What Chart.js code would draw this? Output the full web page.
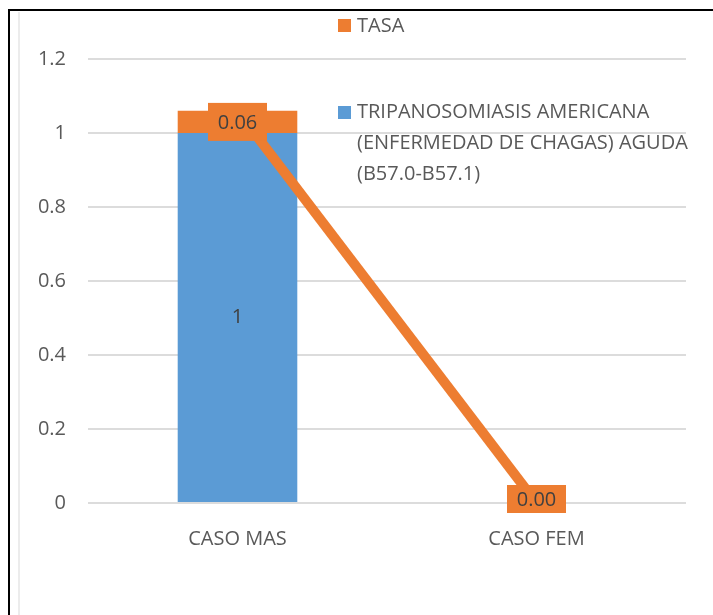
<!DOCTYPE html>
<html>
<head>
<meta charset="utf-8">
<script src="https://cdn.jsdelivr.net/npm/chart.js@4.4.1/dist/chart.umd.min.js"></script>
<style>
  body { margin: 0; background: #fff; }
  #wrap { position: relative; width: 713px; height: 615px; }
  .frame-left { position: absolute; left: 8px; top: 9px; width: 2px; height: 606px; background: #000; }
  .frame-top { position: absolute; left: 8px; top: 9px; width: 705px; height: 2px; background: #000; }
  .frame-inner { position: absolute; left: 18px; top: 12px; width: 2px; height: 603px; background: #ececec; }
</style>
</head>
<body>
<div id="wrap">
  <canvas id="chart" width="713" height="615"></canvas>
  <div class="frame-left"></div>
  <div class="frame-top"></div>
  <div class="frame-inner"></div>
</div>
<script>
const categories = ['CASO MAS', 'CASO FEM'];
const casos = [1, 0];
const tasa = [0.06, 0];
const yTicks = { min: 0, max: 1.2, step: 0.2 };

const serieCasos = ['TRIPANOSOMIASIS AMERICANA', '(ENFERMEDAD DE CHAGAS) AGUDA', '(B57.0-B57.1)'];
const serieTasa = 'TASA';

const BLUE = '#5b9bd5';
const ORANGE = '#ed7d31';
const TEXT = '#595959';
const FONT = '"Open Sans", "Liberation Sans", sans-serif';

// top of the stack, where the TASA line runs
const tasaLinea = casos.map((v, i) => v + tasa[i]);

const labelsPlugin = {
  id: 'labels',
  afterDatasetsDraw(chart) {
    const ctx = chart.ctx;
    ctx.save();
    ctx.font = '20px ' + FONT;
    ctx.textAlign = 'center';
    ctx.textBaseline = 'middle';

    chart.getDatasetMeta(0).data.forEach((bar, i) => {
      if (!casos[i]) return;
      ctx.fillStyle = '#404040';
      ctx.fillText(String(casos[i]), bar.x, (bar.y + bar.base) / 2);
    });

    chart.getDatasetMeta(1).data.forEach((bar, i) => {
      // empty segments get a flatter box sitting on the axis
      const cy = (bar.y + bar.base) / 2 - (tasa[i] ? 0 : 4);
      const h = tasa[i] ? 38 : 28;
      ctx.fillStyle = ORANGE;
      ctx.fillRect(bar.x - 29.5, cy - h / 2, 59, h);
      ctx.fillStyle = '#404040';
      ctx.fillText(tasa[i].toFixed(2), bar.x, cy + 1);
    });
    ctx.restore();
  },
  afterDraw(chart) {
    const ctx = chart.ctx;
    ctx.save();
    ctx.font = '20px ' + FONT;
    ctx.textBaseline = 'middle';
    ctx.fillStyle = ORANGE;
    ctx.fillRect(338, 19, 13, 13);
    ctx.fillStyle = TEXT;
    ctx.fillText(serieTasa, 357, 26);

    ctx.fillStyle = BLUE;
    ctx.fillRect(338, 106, 13, 13);
    ctx.fillStyle = TEXT;
    serieCasos.forEach((line, k) => ctx.fillText(line, 357, 112 + k * 31));
    ctx.restore();
  }
};

new Chart(document.getElementById('chart'), {
  data: {
    labels: categories,
    datasets: [
      {
        type: 'bar',
        label: serieCasos.join(' '),
        data: casos,
        backgroundColor: BLUE,
        stack: 'a',
        barPercentage: 0.5,
        categoryPercentage: 0.8,
        order: 1
      },
      {
        type: 'bar',
        label: serieTasa,
        data: tasa,
        backgroundColor: ORANGE,
        stack: 'a',
        barPercentage: 0.5,
        categoryPercentage: 0.8,
        order: 2
      },
      {
        type: 'line',
        label: serieTasa,
        data: tasaLinea,
        borderColor: ORANGE,
        borderWidth: 10,
        pointRadius: 0,
        tension: 0,
        stack: 'linea',
        order: 0
      }
    ]
  },
  options: {
    responsive: false,
    animation: false,
    layout: { padding: { top: 59, right: 27, left: 0, bottom: 0 } },
    plugins: { legend: { display: false }, tooltip: { enabled: false } },
    scales: {
      x: {
        stacked: true,
        grid: { display: false },
        border: { display: false },
        ticks: { color: TEXT, font: { family: FONT, size: 20 }, padding: 16 },
        afterFit(scale) { scale.height = 112; }
      },
      y: {
        stacked: true,
        min: yTicks.min,
        max: yTicks.max,
        grid: { color: '#dcdcdc', lineWidth: 2, drawTicks: false },
        border: { display: false },
        ticks: {
          stepSize: yTicks.step,
          color: TEXT,
          font: { family: FONT, size: 20 },
          padding: 22,
          callback: v => String(Number(v.toFixed(1)))
        },
        afterFit(scale) { scale.width = 88; }
      }
    }
  },
  plugins: [labelsPlugin]
});
</script>
</body>
</html>
